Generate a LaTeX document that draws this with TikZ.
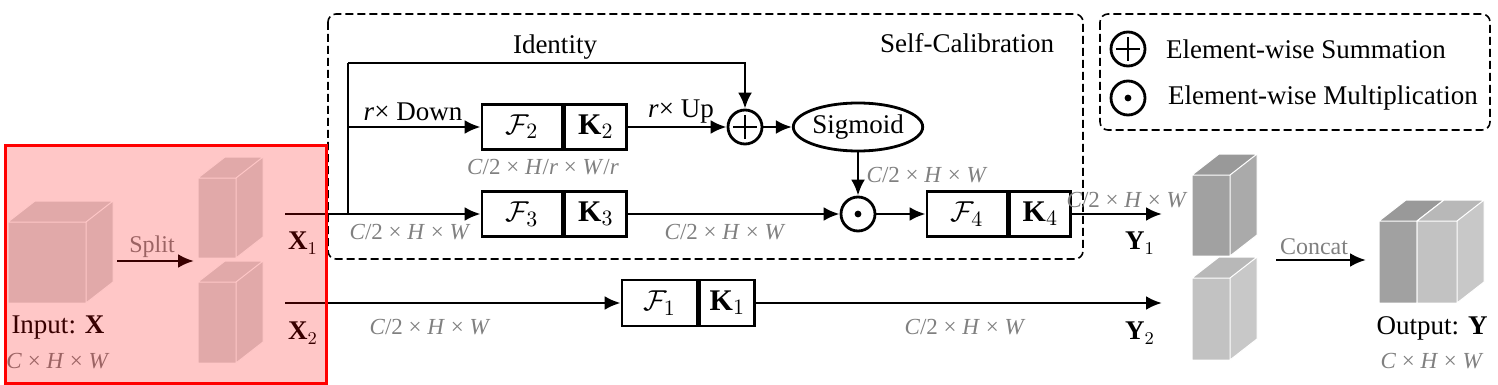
\documentclass[tikz,border=0pt]{standalone}
\usepackage{fontspec}
\setmainfont{Liberation Serif}
\usetikzlibrary{arrows.meta,calc,positioning,shapes.geometric}

\definecolor{dimgray}{gray}{0.5}
\definecolor{splitgray}{gray}{0.85}
\definecolor{darkcube}{gray}{0.63}
\definecolor{lightcube}{gray}{0.76}

% front face top-left (x,y), width, height, front/top/side colours
\newcommand{\featcube}[7]{%
  \fill[#5] (#1,#2) rectangle ++(#3,#4);
  \fill[#6] (#1,#2) -- ++(27,-21) -- ++(#3,0) -- ++(-27,21) -- cycle;
  \fill[#7] (#1+#3,#2) -- ++(27,-21) -- ++(0,#4) -- ++(-27,21) -- cycle;
  \draw[white,line width=0.5pt] (#1,#2) rectangle ++(#3,#4)
    (#1,#2) -- ++(27,-21) -- ++(#3,0) -- ++(-27,21)
    ++(27,-21) -- ++(0,#4) -- ++(-27,21);
}
\newcommand{\halfdim}{\textit{C}/2 × \textit{H} × \textit{W}}

\begin{document}
\begin{tikzpicture}[x=0.5pt,y=-0.5pt,line width=1.4pt,
    font=\fontsize{13.5}{15}\selectfont,
    conn/.style={line width=1.4pt},
    arr/.style={line width=1.4pt,-{Latex[length=8pt,width=7pt]}},
    fbox/.style={draw,line width=1.4pt,minimum width=40pt,minimum height=22.5pt,inner sep=0pt,
      font=\fontsize{15}{17}\selectfont},
    kbox/.style={draw,line width=1.4pt,minimum width=31pt,minimum height=22.5pt,inner sep=0pt,
      font=\fontsize{15}{17}\selectfont},
    sumop/.style={circle,draw,line width=1.4pt,minimum size=17pt,inner sep=0pt,
      path picture={\draw[line width=1.4pt] ($(path picture bounding box.center)+(-6pt,0)$) -- ++(12pt,0)
        ($(path picture bounding box.center)+(0,-6pt)$) -- ++(0,12pt);}},
    mulop/.style={circle,draw,line width=1.4pt,minimum size=17pt,inner sep=0pt,
      path picture={\fill (path picture bounding box.center) circle (1.7pt);}},
    dimlbl/.style={text=dimgray,font=\fontsize{11.5}{13}\selectfont},
    grouplbl/.style={draw,dashed,dash pattern=on 4pt off 2pt,line width=0.8pt,rounded corners=4pt}]
  \useasboundingbox (0,0) rectangle (1498,385);

  % self-calibration and legend frames
  \draw[grouplbl] (328,14) rectangle (1083,259);
  \draw[grouplbl] (1100,14) rectangle (1490,130);
  \node (sctitle) at (967,43) {Self-Calibration};

  % cubes
  \featcube{8}{222}{78}{81}{splitgray}{splitgray}{splitgray}
  \featcube{198}{178}{38}{80}{splitgray}{splitgray}{splitgray}
  \featcube{198}{282}{38}{81}{splitgray}{splitgray}{splitgray}
  \featcube{1192}{175}{38}{81}{darkcube}{darkcube!95!black}{darkcube!90}
  \featcube{1192}{278}{38}{82}{lightcube}{lightcube!95!black}{lightcube!90}
  \featcube{1379}{221}{38}{82}{darkcube}{darkcube!95!black}{darkcube!90}
  \featcube{1417}{221}{40}{82}{lightcube}{lightcube!95!black}{lightcube!90}

  % blocks
  \node[fbox] (f2) at (522,127) {$\mathcal{F}_2$};
  \node[kbox,right=0pt of f2] (k2) {$\mathbf{K}_2$};
  \node[fbox] (f3) at (522,214) {$\mathcal{F}_3$};
  \node[kbox,right=0pt of f3] (k3) {$\mathbf{K}_3$};
  \node[fbox] (f4) at (967,214) {$\mathcal{F}_4$};
  \node[kbox,minimum width=30.5pt,right=0pt of f4] (k4) {$\mathbf{K}_4$};
  \node[fbox,minimum width=37.5pt,minimum height=23pt] (f1) at (659.5,303) {$\mathcal{F}_1$};
  \node[kbox,minimum width=27.5pt,minimum height=23pt,right=0pt of f1] (k1) {$\mathbf{K}_1$};
  \node[sumop] (plus) at (745,127) {};
  \node[ellipse,draw,line width=1.4pt,minimum width=54pt,minimum height=24pt,inner sep=0pt] (sig) at (858,127) {Sigmoid};
  \node[mulop] (dot) at (858,214) {};

  % connectors
  \coordinate (x1s) at (285,214);
  \coordinate (br) at (348,214);
  \coordinate (idtop) at (348,63);
  \coordinate (y1e) at (1162,214);
  \coordinate (x2s) at (285,303);
  \coordinate (y2e) at (1162,303);
  \coordinate (sps) at (117,261);
  \coordinate (spe) at (194,261);
  \coordinate (ccs) at (1276,260);
  \coordinate (cce) at (1366,260);
  \draw[arr] (x1s) -- (f3);
  \draw[conn] (br) -- (idtop);
  \draw[arr] (idtop) -| (plus);
  \draw[arr] (br |- f2) -- (f2);
  \draw[arr] (k2) -- (plus);
  \draw[arr] (plus) -- (sig);
  \draw[arr] (sig) -- (dot);
  \draw[arr] (k3) -- (dot);
  \draw[arr] (dot) -- (f4);
  \draw[arr] (k4) -- (y1e);
  \draw[arr] (x2s) -- (f1);
  \draw[arr] (k1) -- (y2e);
  \draw[arr] (sps) -- (spe);
  \draw[arr] (ccs) -- (cce);

  % labels
  \node (idlbl) at (555,47) {Identity};
  \node (downlbl) at (413,112) {\textit{r}× Down};
  \node (uplbl) at (681,112) {\textit{r}× Up};
  \node[dimlbl] (d2) at (543,167) {\textit{C}/2 × \textit{H}/\textit{r} × \textit{W}/\textit{r}};
  \node[dimlbl] (dx1) at (410,232) {\halfdim};
  \node[dimlbl] (d3) at (725,232) {\halfdim};
  \node[dimlbl] (dsig) at (927,175) {\halfdim};
  \node[dimlbl] (d4) at (1127,200) {\halfdim};
  \node[dimlbl] (dx2) at (430,327) {\halfdim};
  \node[dimlbl] (dy2) at (965,327) {\halfdim};
  \node (x1lbl) at (303,243) {$\mathbf{X}_1$};
  \node (x2lbl) at (303,333) {$\mathbf{X}_2$};
  \node (y1lbl) at (1140,243) {$\mathbf{Y}_1$};
  \node (y2lbl) at (1140,333) {$\mathbf{Y}_2$};
  \node[text=dimgray,font=\fontsize{12}{14}\selectfont] (splitlbl) at (152,247) {Split};
  \node[text=dimgray,font=\fontsize{12}{14}\selectfont] (concatlbl) at (1314,247) {Concat};
  \node (inlbl) at (58,328) {Input: $\mathbf{X}$};
  \node[dimlbl] (indim) at (58,361) {\textit{C} × \textit{H} × \textit{W}};
  \node (outlbl) at (1432,328) {Output: $\mathbf{Y}$};
  \node[dimlbl] (outdim) at (1432,361) {\textit{C} × \textit{H} × \textit{W}};

  % legend
  \node[sumop] (lsum) at (1128,49) {};
  \node[anchor=west] (lsumtxt) at (1158,49) {Element-wise Summation};
  \node[mulop] (lmul) at (1128,98) {};
  \node[anchor=west] (lmultxt) at (1160,98) {Element-wise Multiplication};

  % input highlight
  \draw[red,line width=1.5pt,fill=red,fill opacity=0.22] (5,145) rectangle (326,383);
\end{tikzpicture}
\end{document}
